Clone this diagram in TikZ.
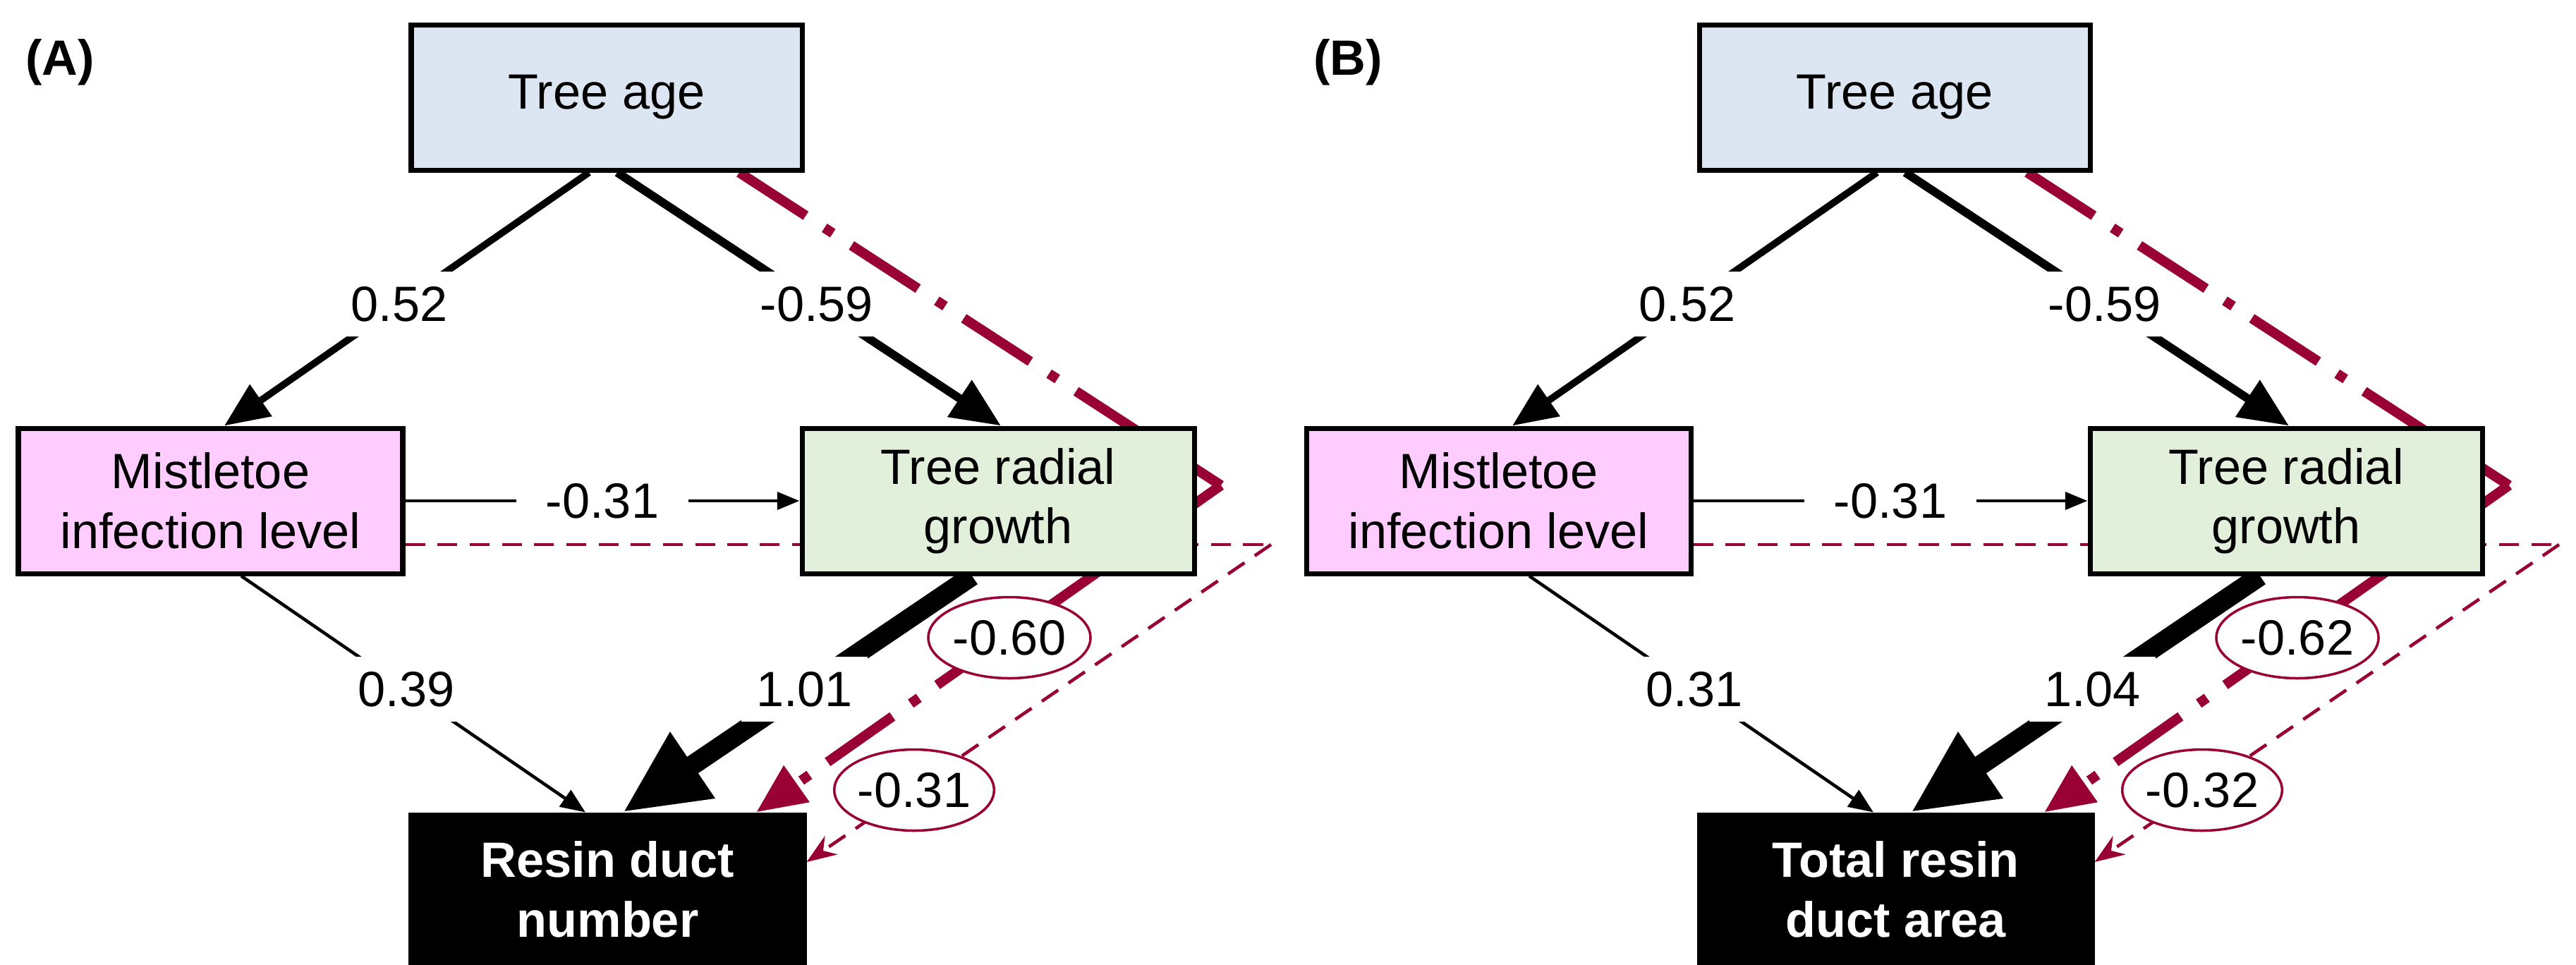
\documentclass[tikz,border=0pt]{standalone}
\usepackage{fontspec}
\setmainfont{Liberation Sans}
\usetikzlibrary{arrows.meta,backgrounds,shapes.geometric}
\definecolor{cblue}{HTML}{DCE6F2}
\definecolor{cpink}{HTML}{FFCCFF}
\definecolor{cgreen}{HTML}{E2EFDA}
\definecolor{cred}{HTML}{990033}
\tikzset{
 fs/.style={font=\fontsize{20}{24}\selectfont},
 box/.style={draw=black,line width=2pt,minimum height=2.06cm,align=center,fs,inner sep=0pt},
 lab/.style={fill=white,inner sep=6pt,fs},
 ell/.style={ellipse,draw=cred,line width=1pt,fill=white,minimum width=2.3cm,minimum height=1.15cm,inner sep=0pt,fs},
 arr/.style 2 args={-{Triangle[length=#1,width=#2]}},
 rdd/.style={cred,line width=4pt,dash pattern=on 32pt off 9pt on 4pt off 9pt},
 rds/.style={cred,line width=1.3pt,dash pattern=on 8pt off 5pt},
}
\newcommand\mypanel[8]{%
\begin{scope}[xshift=#1cm]
\node[font=\fontsize{20}{24}\selectfont\bfseries] (#2lt) at (0.85,-0.88) {#3};
\node[box,fill=cblue,minimum width=5.54cm] (#2ta) at (8.60,-1.38) {Tree age};
\node[box,fill=cpink,minimum width=5.45cm] (#2mi) at (2.985,-7.10) {Mistletoe\\infection level};
\node[box,fill=cgreen,minimum width=5.56cm] (#2tr) at (14.15,-7.10) {Tree radial\\growth};
\node[box,fill=black,text=white,font=\fontsize{20}{24}\selectfont\bfseries,minimum width=5.57cm,minimum height=2.12cm] (#2rd) at (8.615,-12.61) {#4};
\coordinate (#2c1) at (17.31,-6.88);
\coordinate (#2c2) at (18.02,-7.72);
\begin{pgfonlayer}{background}
\draw[arr={18pt}{15pt},line width=2.8pt] (#2ta.south -| 8.35,0) -- (#2mi.north -| 3.18,0) node[lab,pos=0.52] {0.52};
\draw[arr={20pt}{17pt},line width=3.4pt] (#2ta.south -| 8.75,0) -- (#2tr.north -| 14.19,0) node[lab,pos=0.52] {-0.59};
\draw[arr={9pt}{7pt},line width=1.4pt] (#2mi.east) -- (#2tr.west) node[lab,inner xsep=12pt,midway] {-0.31};
\draw[arr={10pt}{8pt},line width=1.3pt] (#2mi.south -| 3.42,0) -- (#2rd.north -| 8.30,0) node[lab,pos=0.48] {#5};
\draw[arr={34pt}{30pt},line width=8pt] (#2tr.south -| 13.78,0) -- (#2rd.north -| 8.83,0) node[lab,pos=0.48] {#6};
\draw[rdd] (#2ta.south -| 10.48,0) -- (#2c1);
\draw[cred,line width=4pt,-{Triangle[length=20pt,width=17pt]},dash pattern=on 32pt off 9pt on 4pt off 9pt] (#2c1) -- (#2rd.north -| 10.72,0);
\draw[rds] (#2mi.east |- 0,-7.72) -- (#2c2);
\draw[rds,-{Stealth[length=12pt,width=9pt]}] (#2c2) -- (#2rd.east |- 0,-12.22);
\node[ell] (#2e1) at (14.31,-9.04) {#7};
\node[ell,minimum width=2.15cm] (#2e2) at (12.96,-11.20) {#8};
\end{pgfonlayer}
\end{scope}}
\begin{document}
\begin{tikzpicture}
\useasboundingbox (0,0) rectangle (36.52,-13.67);
\mypanel{0}{a}{(A)}{Resin duct\\number}{0.39}{1.01}{-0.60}{-0.31}
\mypanel{18.26}{b}{(B)}{Total resin\\duct area}{0.31}{1.04}{-0.62}{-0.32}
\end{tikzpicture}
\end{document}
